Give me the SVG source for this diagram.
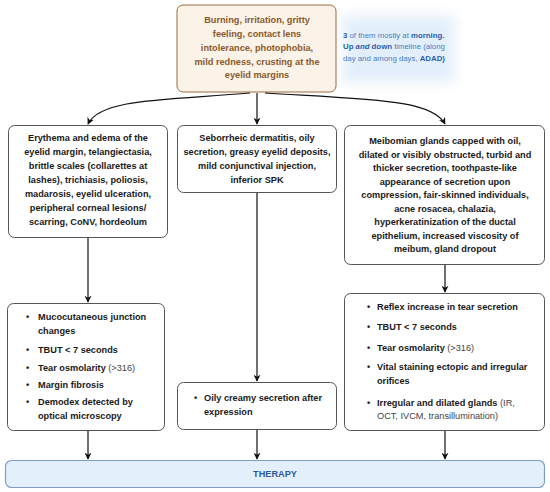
<svg xmlns="http://www.w3.org/2000/svg" width="550" height="492" viewBox="0 0 550 492">
<defs>
<style>
.box{fill:#fff;stroke:#555;stroke-width:1}
.t{font-family:"Liberation Sans",Arial,sans-serif;font-size:9.2px;font-weight:bold;fill:#1a1a1a}
.c{text-anchor:middle}
.r{font-weight:normal;fill:#444}
.top{fill:#8a5a2b}
.note{font-family:"Liberation Sans",Arial,sans-serif;font-size:7.8px;fill:#4a7fc0}
.nb{font-weight:bold;fill:#2b5fa8}
.edge{fill:none;stroke:#111;stroke-width:1.2;marker-end:url(#ah)}
</style>
<marker id="ah" viewBox="0 0 10 10" refX="9" refY="5" markerWidth="7" markerHeight="7" orient="auto-start-reverse" markerUnits="userSpaceOnUse">
<path d="M0,0 L10,5 L0,10 L3,5 z" fill="#111"/>
</marker>
<filter id="blur" x="-30%" y="-40%" width="160%" height="180%"><feGaussianBlur stdDeviation="7"/></filter>
</defs>

<g id="note">
<path d="M340,16 L454,16 L454,82 L340,82 Q350,49 340,16 z" fill="#e2eefa" filter="url(#blur)"/>
<text class="note" x="343" y="37.5"><tspan class="nb">3</tspan> of them mostly at <tspan class="nb">morning.</tspan></text>
<text class="note" x="343" y="49"><tspan class="nb">Up <tspan font-style="italic">and</tspan> down</tspan> timeline (along</text>
<text class="note" x="343" y="60.5">day and among days, <tspan class="nb">ADAD)</tspan></text>
</g>

<g id="symptoms">
<rect x="177" y="5" width="159" height="87" rx="6" fill="#fbf2e8" stroke="#9c6c3e" stroke-width="1"/>
<text class="t c top" x="257" y="23">Burning, irritation, gritty</text>
<text class="t c top" x="257" y="37">feeling, contact lens</text>
<text class="t c top" x="257" y="51">intolerance, photophobia,</text>
<text class="t c top" x="257" y="64.5">mild redness, crusting at the</text>
<text class="t c top" x="257" y="78">eyelid margins</text>
</g>

<g id="anterior">
<rect class="box" x="8.5" y="125.5" width="159" height="112" rx="6"/>
<text class="t c" x="88" y="141">Erythema and edema of the</text>
<text class="t c" x="88" y="155">eyelid margin, telangiectasia,</text>
<text class="t c" x="88" y="169">brittle scales (collarettes at</text>
<text class="t c" x="88" y="183">lashes), trichiasis, poliosis,</text>
<text class="t c" x="88" y="197">madarosis, eyelid ulceration,</text>
<text class="t c" x="88" y="211">peripheral corneal lesions/</text>
<text class="t c" x="88" y="224.5">scarring, CoNV, hordeolum</text>
</g>

<g id="seborrheic">
<rect class="box" x="177.5" y="125.5" width="159" height="67" rx="6"/>
<text class="t c" x="257" y="141">Seborrheic dermatitis, oily</text>
<text class="t c" x="257" y="155">secretion, greasy eyelid deposits,</text>
<text class="t c" x="257" y="169">mild conjunctival injection,</text>
<text class="t c" x="257" y="183">inferior SPK</text>
</g>

<g id="meibomian">
<rect class="box" x="344.5" y="125.5" width="200" height="139" rx="6"/>
<text class="t c" x="445" y="144">Meibomian glands capped with oil,</text>
<text class="t c" x="445" y="157.5">dilated or visibly obstructed, turbid and</text>
<text class="t c" x="445" y="171">thicker secretion, toothpaste-like</text>
<text class="t c" x="445" y="184.5">appearance of secretion upon</text>
<text class="t c" x="445" y="198">compression, fair-skinned individuals,</text>
<text class="t c" x="445" y="211.5">acne rosacea, chalazia,</text>
<text class="t c" x="445" y="225">hyperkeratinization of the ductal</text>
<text class="t c" x="445" y="238.5">epithelium, increased viscosity of</text>
<text class="t c" x="445" y="252">meibum, gland dropout</text>
</g>

<g id="anterior-signs">
<rect class="box" x="7.5" y="303.5" width="157" height="127" rx="6"/>
<text class="t" x="26" y="320">•</text><text class="t" x="38" y="320">Mucocutaneous junction</text>
<text class="t" x="38" y="333.5">changes</text>
<text class="t" x="26" y="353">•</text><text class="t" x="38" y="353">TBUT &lt; 7 seconds</text>
<text class="t" x="26" y="370.5">•</text><text class="t" x="38" y="370.5">Tear osmolarity <tspan class="r">(&gt;316)</tspan></text>
<text class="t" x="26" y="387.5">•</text><text class="t" x="38" y="387.5">Margin fibrosis</text>
<text class="t" x="26" y="405">•</text><text class="t" x="38" y="405">Demodex detected by</text>
<text class="t" x="38" y="418.5">optical microscopy</text>
</g>

<g id="seborrheic-signs">
<rect class="box" x="177.5" y="382.5" width="159" height="47" rx="6"/>
<text class="t" x="194" y="401">•</text><text class="t" x="204" y="401">Oily creamy secretion after</text>
<text class="t" x="204" y="415">expression</text>
</g>

<g id="meibomian-signs">
<rect class="box" x="344.5" y="293.5" width="200" height="137" rx="6"/>
<text class="t" x="367" y="309.5">•</text><text class="t" x="377" y="309.5">Reflex increase in tear secretion</text>
<text class="t" x="367" y="329.5">•</text><text class="t" x="377" y="329.5">TBUT &lt; 7 seconds</text>
<text class="t" x="367" y="350.5">•</text><text class="t" x="377" y="350.5">Tear osmolarity <tspan class="r">(&gt;316)</tspan></text>
<text class="t" x="367" y="370">•</text><text class="t" x="377" y="370">Vital staining ectopic and irregular</text>
<text class="t" x="377" y="383.5">orifices</text>
<text class="t" x="367" y="406">•</text><text class="t" x="377" y="406">Irregular and dilated glands <tspan class="r">(IR,</tspan></text>
<text class="t r" x="377" y="419">OCT, IVCM, transillumination)</text>
</g>

<g id="therapy">
<rect x="5.5" y="460.5" width="539" height="27" rx="6" fill="#e3f0fb" stroke="#7f9dc6" stroke-width="1.2"/>
<text class="t c" x="275" y="477" style="fill:#2c5b9c">THERAPY</text>
</g>

<g id="connectors">
<path class="edge" d="M250,93 C170,100 100,98 88,124"/>
<path class="edge" d="M257,93 L257,124"/>
<path class="edge" d="M265,93 C380,100 432,100 445,124"/>
<path class="edge" d="M88,238 L88,302"/>
<path class="edge" d="M257,193 L257,381"/>
<path class="edge" d="M445,265 L445,292"/>
<path class="edge" d="M88,431 L88,459"/>
<path class="edge" d="M257,430 L257,459"/>
<path class="edge" d="M445,431 L445,459"/>
</g>
</svg>
